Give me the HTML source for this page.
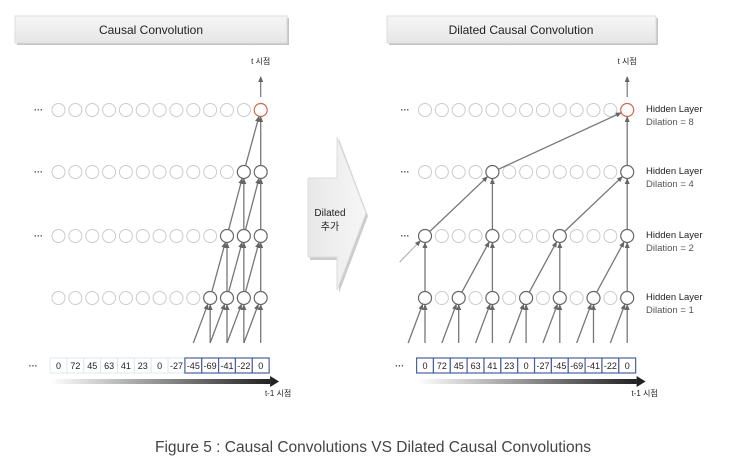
<!DOCTYPE html>
<html><head><meta charset="utf-8"><style>
body{margin:0;background:#fff;width:746px;height:469px;overflow:hidden}
svg text{font-family:"Liberation Sans","Noto Sans CJK KR",sans-serif}
</style></head><body>
<svg width="746" height="469" viewBox="0 0 746 469" xmlns="http://www.w3.org/2000/svg">
<defs>
<marker id="ah" markerWidth="6" markerHeight="6" refX="5" refY="3" orient="auto" markerUnits="userSpaceOnUse"><path d="M0,0.5 L6,3 L0,5.5z" fill="#666"/></marker>
<linearGradient id="bar" x1="0" x2="1"><stop offset="0" stop-color="#fff"/><stop offset="1" stop-color="#222"/></linearGradient>
<linearGradient id="hdr" x1="0" y1="0" x2="0" y2="1"><stop offset="0" stop-color="#f6f6f6"/><stop offset="1" stop-color="#e6e6e6"/></linearGradient>
<linearGradient id="arr" x1="0" y1="0" x2="1" y2="0"><stop offset="0" stop-color="#e8e8e8"/><stop offset="1" stop-color="#f6f6f6"/></linearGradient>
</defs>
<rect x="17" y="18" width="272" height="27" fill="#c4c4c4"/>
<rect x="15" y="16" width="272" height="27" fill="url(#hdr)" stroke="#ddd"/>
<text x="151" y="34" font-size="12" text-anchor="middle" fill="#222">Causal Convolution</text>
<rect x="389" y="18" width="269" height="27" fill="#c4c4c4"/>
<rect x="387" y="16" width="269" height="27" fill="url(#hdr)" stroke="#ddd"/>
<text x="521" y="34" font-size="12" text-anchor="middle" fill="#222">Dilated Causal Convolution</text>
<polygon points="310,181 339,181 339,139 368,216 339,293 339,260 310,260" fill="#ccc"/>
<polygon points="308,178 337,178 337,137 366,213 337,290 337,257 308,257" fill="url(#arr)" stroke="#ddd"/>
<text x="330" y="216" font-size="10" text-anchor="middle" fill="#222">Dilated</text>
<text x="330" y="230" font-size="10" text-anchor="middle" fill="#222">추가</text>
<text x="373" y="452" font-size="15.5" text-anchor="middle" fill="#444">Figure 5 : Causal Convolutions VS Dilated Causal Convolutions</text>
<g id="dyn"></g>
</svg>
<script>
var NS="http://www.w3.org/2000/svg",g=document.getElementById("dyn");
function el(t,a,txt){var e=document.createElementNS(NS,t);for(var k in a)e.setAttribute(k,a[k]);if(txt!=null)e.textContent=txt;g.appendChild(e);return e;}
var rows=[110,172,236,298],R=6.5,sp=16.85;
function panel(x0,active,links,right){
 [110,172,236].forEach(function(y){ el("text",{x:x0-20,y:y+3,"font-size":"9","font-weight":"bold",fill:"#444","text-anchor":"middle"},"···");});
 for(var r=0;r<4;r++)for(var i=0;i<13;i++){
  var a=active[r].indexOf(i)>=0;
  var col=(r==0&&i==12)?"#d2694a":(a?"#666":"#ccc");
  el("circle",{cx:x0+i*sp,cy:rows[r],r:R,fill:"#fff",stroke:col,"stroke-width":a?1.2:1});
 }
 links.forEach(function(l){
  var x1=x0+l[0]*sp,y1=l[1],x2=x0+l[2]*sp,y2=rows[l[3]];
  var dx=x2-x1,dy=y2-y1,d=Math.sqrt(dx*dx+dy*dy);
  var ex=x2-dx/d*(R+0.5),ey=y2-dy/d*(R+0.5);
  var sx=x1,sy=y1; if(l[4]){sx=x1+dx/d*R;sy=y1+dy/d*R;}
  el("line",{x1:sx,y1:sy,x2:ex,y2:ey,stroke:l[5]||"#777","stroke-width":1.3,"marker-end":"url(#ah)"});
 });
 var xo=x0+12*sp;
 el("line",{x1:xo,y1:97,x2:xo,y2:77,stroke:"#777","stroke-width":1.2,"marker-end":"url(#ah)"});
 el("text",{x:xo,y:64,"font-size":"8","text-anchor":"middle",fill:"#222"},"t 시점");
 var vals=["0","72","45","63","41","23","0","-27","-45","-69","-41","-22","0"];
 var bx=x0-8.4;
 el("text",{x:bx-17,y:369,"font-size":"9","font-weight":"bold",fill:"#444","text-anchor":"middle"},"···");
 for(var i=0;i<13;i++){
  var blue=right||i>=8;
  el("rect",{x:bx+i*sp,y:358,width:sp,height:15,fill:"#fff",stroke:blue?"#4a62a0":"#dfe6f3","stroke-width":blue?1.2:1});
  el("text",{x:bx+i*sp+sp/2,y:369,"font-size":"9","text-anchor":"middle",fill:"#222"},vals[i]);
 }
 el("rect",{x:bx,y:379,width:220,height:5,fill:"url(#bar)"});
 el("polygon",{points:(bx+220)+",376 "+(bx+229)+",381.5 "+(bx+220)+",387",fill:"#222"});
 el("text",{x:bx+228,y:396,"font-size":"8","text-anchor":"middle",fill:"#222"},"t-1 시점");
}
var L0=58.5,la=[[12],[11,12],[10,11,12],[9,10,11,12]],ll=[];
for(var i=9;i<=12;i++){ll.push([i,343,i,3]);ll.push([i-1,343,i,3]);}
for(var i=10;i<=12;i++){ll.push([i,298,i,2,1]);ll.push([i-1,298,i,2,1]);}
for(var i=11;i<=12;i++){ll.push([i,236,i,1,1]);ll.push([i-1,236,i,1,1]);}
ll.push([12,172,12,0,1]);ll.push([11,172,12,0,1]);
panel(L0,la,ll,false);
var R0=425,ra=[[12],[4,12],[0,4,8,12],[0,2,4,6,8,10,12]],rl=[];
[0,2,4,6,8,10,12].forEach(function(i){rl.push([i,343,i,3]);rl.push([i-1,343,i,3]);});
[0,4,8,12].forEach(function(i){rl.push([i,298,i,2,1]);if(i>0)rl.push([i-2,298,i,2,1]);else rl.push([-1.5,262,0,2,0,"#bbb"]);});
[4,12].forEach(function(i){rl.push([i,236,i,1,1]);rl.push([i-4,236,i,1,1]);});
rl.push([12,172,12,0,1]);rl.push([4,172,12,0,1]);
panel(R0,ra,rl,true);
[["8",110],["4",172],["2",236],["1",298]].forEach(function(l){
 el("text",{x:646,y:l[1]+2,"font-size":"9.5",fill:"#222"},"Hidden Layer");
 el("text",{x:646,y:l[1]+15,"font-size":"9.5",fill:"#555"},"Dilation = "+l[0]);
});
</script>
</body></html>
